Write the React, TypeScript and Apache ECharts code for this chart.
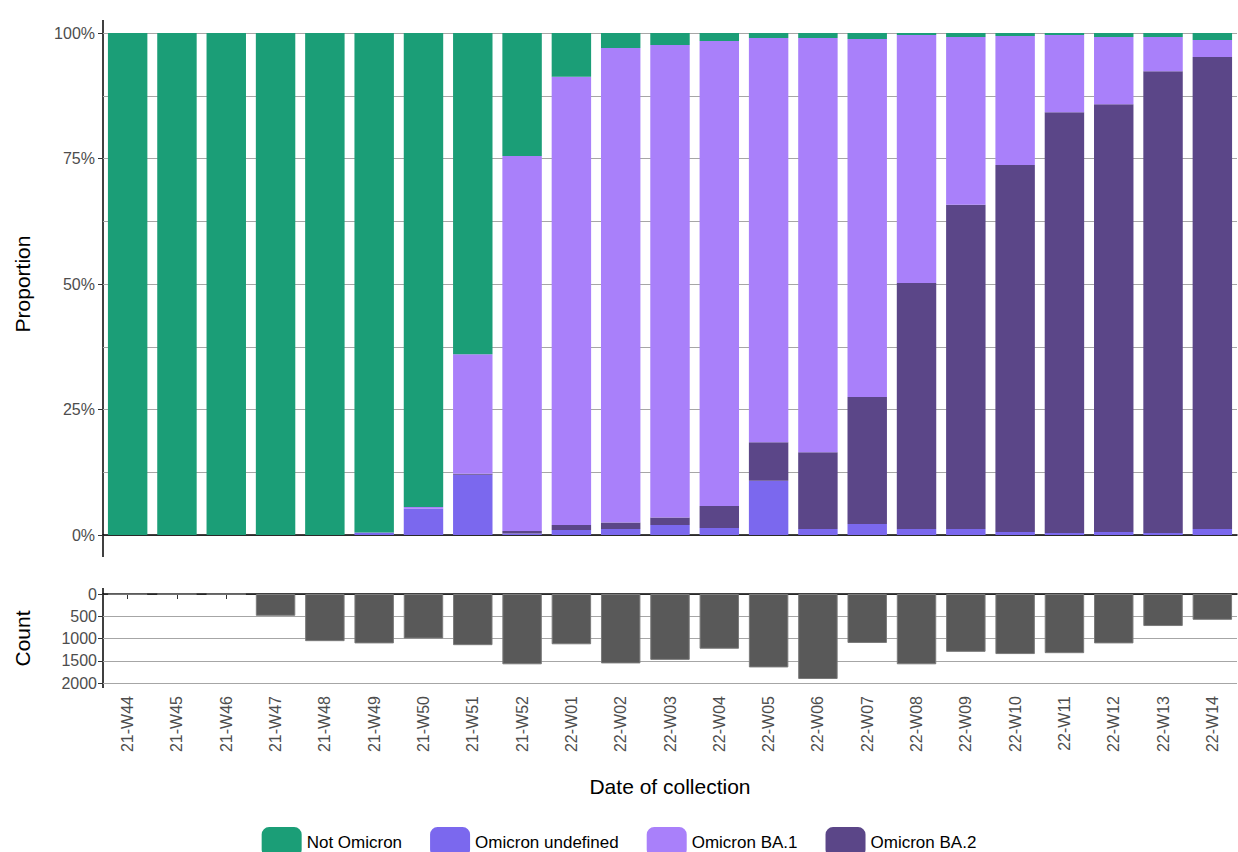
import { useEffect, useRef } from 'react'
import * as echarts from 'echarts'

const weeks = ['21-W44', '21-W45', '21-W46', '21-W47', '21-W48', '21-W49', '21-W50', '21-W51', '21-W52', '22-W01', '22-W02', '22-W03', '22-W04', '22-W05', '22-W06', '22-W07', '22-W08', '22-W09', '22-W10', '22-W11', '22-W12', '22-W13', '22-W14']
const undefinedPct = [0, 0, 0, 0, 0, 0.5, 5.3, 12, 0.3, 1, 1.2, 2, 1.4, 10.8, 1.2, 2.2, 1.2, 1.2, 0.6, 0.4, 0.6, 0.4, 1.2]
const ba2Pct = [0, 0, 0, 0, 0, 0, 0, 0.2, 0.5, 1, 1.3, 1.5, 4.4, 7.7, 15.3, 25.3, 49, 64.6, 73.1, 83.8, 85.2, 92, 94]
const ba1Pct = [0, 0, 0, 0, 0, 0, 0.3, 23.8, 74.7, 89.3, 94.5, 94.1, 92.6, 80.5, 82.5, 71.3, 49.4, 33.4, 25.7, 15.4, 13.4, 6.8, 3.4]
const notPct = [100, 100, 100, 100, 100, 99.5, 94.4, 64, 24.5, 8.7, 3, 2.4, 1.6, 1, 1, 1.2, 0.4, 0.8, 0.6, 0.4, 0.8, 0.8, 1.4]
const counts = [10, 5, 5, 490, 1060, 1110, 1000, 1150, 1580, 1130, 1560, 1480, 1230, 1650, 1910, 1100, 1580, 1300, 1350, 1330, 1110, 720, 580]

const FONT = 'Liberation Sans'
const tickLabel = { color: '#4d4d4d', fontSize: 16, fontFamily: FONT }
const gridLine = { lineStyle: { color: '#a6a6a6', width: 1.2 } }

export default function App() {
  const ref = useRef<HTMLDivElement | null>(null)

  useEffect(() => {
    document.body.style.margin = '0'
    if (!ref.current) return
    const chart = echarts.init(ref.current, null, { renderer: 'svg' })
    const stack = (name: string, data: number[], color: string) => ({
      name,
      type: 'bar',
      stack: 'p',
      data,
      xAxisIndex: 0,
      yAxisIndex: 0,
      barCategoryGap: '20%',
      itemStyle: { color },
    })
    chart.setOption({
      animation: false,
      textStyle: { fontFamily: FONT },
      grid: [
        { left: 103, right: 1, top: 33, height: 502 },
        { left: 103, right: 1, top: 594, height: 89 },
      ],
      legend: {
        top: 822,
        itemWidth: 40,
        itemHeight: 30,
        itemGap: 28,
        textStyle: { fontSize: 17, color: '#000', fontFamily: FONT },
        data: ['Not Omicron', 'Omicron undefined', 'Omicron BA.1', 'Omicron BA.2'],
      },
      xAxis: [
        {
          type: 'category',
          gridIndex: 0,
          data: weeks,
          offset: 22,
          axisLine: { lineStyle: { color: '#000', width: 1.5 } },
          axisTick: { show: false },
          axisLabel: { show: false },
        },
        {
          type: 'category',
          gridIndex: 1,
          data: weeks,
          offset: 5,
          axisLine: { lineStyle: { color: '#000', width: 1.5 } },
          axisTick: { show: true, alignWithLabel: true, lineStyle: { color: '#333' } },
          axisLabel: { ...tickLabel, rotate: 90, margin: 8 },
          name: 'Date of collection',
          nameLocation: 'middle',
          nameGap: 88,
          nameTextStyle: { fontSize: 21, color: '#000', fontFamily: FONT },
        },
      ],
      yAxis: [
        {
          type: 'value',
          gridIndex: 0,
          min: 0,
          max: 100,
          interval: 25,
          axisLabel: { ...tickLabel, formatter: '{value}%' },
          axisLine: { show: false },
          axisTick: { show: true, lineStyle: { color: '#333' } },
          splitLine: gridLine,
          minorSplitLine: { show: true, lineStyle: { color: '#a6a6a6', width: 1.2 } },
          minorTick: { show: false, splitNumber: 2 },
          name: 'Proportion',
          nameLocation: 'middle',
          nameGap: 70,
          nameTextStyle: { fontSize: 21, color: '#000', fontFamily: FONT },
        },
        {
          type: 'value',
          gridIndex: 1,
          inverse: true,
          min: 0,
          max: 2000,
          interval: 500,
          axisLabel: { ...tickLabel, margin: 6, formatter: (v: number) => String(v) },
          axisLine: { show: false },
          axisTick: { show: true, lineStyle: { color: '#333' } },
          splitLine: gridLine,
          name: 'Count',
          nameLocation: 'middle',
          nameGap: 70,
          nameTextStyle: { fontSize: 21, color: '#000', fontFamily: FONT },
        },
      ],
      graphic: [
        { type: 'line', shape: { x1: 103, y1: 20, x2: 103, y2: 557 }, style: { stroke: '#000', lineWidth: 1.5 } },
        { type: 'line', shape: { x1: 103, y1: 588, x2: 103, y2: 688 }, style: { stroke: '#000', lineWidth: 1.5 } },
      ],
      series: [
        stack('Omicron undefined', undefinedPct, '#7b68ee'),
        stack('Omicron BA.2', ba2Pct, '#5b4688'),
        stack('Omicron BA.1', ba1Pct, '#a980fa'),
        stack('Not Omicron', notPct, '#1b9e77'),
        {
          name: 'Count',
          type: 'bar',
          xAxisIndex: 1,
          yAxisIndex: 1,
          data: counts,
          barCategoryGap: '20%',
          itemStyle: { color: '#595959', borderColor: '#7a7a7a', borderWidth: 1 },
        },
      ],
    })
    return () => chart.dispose()
  }, [])

  return <div ref={ref} style={{ width: 1238, height: 852 }} />
}
